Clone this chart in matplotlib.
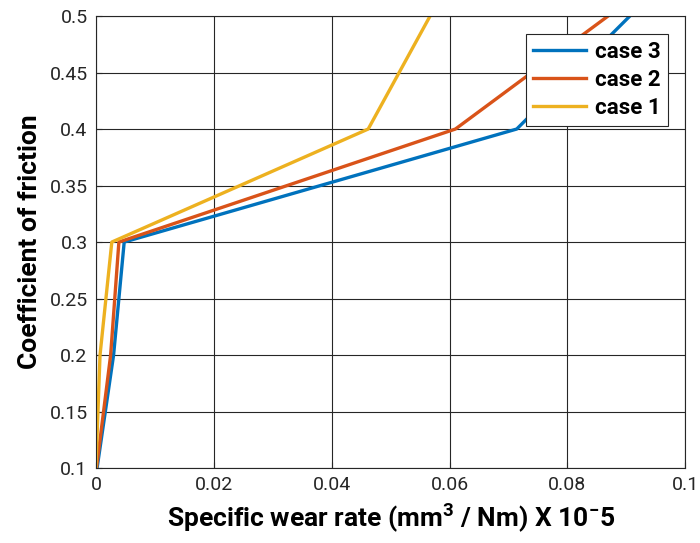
import numpy as np
import matplotlib.pyplot as plt

plt.rcParams['font.family'] = ['Roboto', 'DejaVu Sans']
plt.rcParams['mathtext.fontset'] = 'custom'
plt.rcParams['mathtext.rm'] = 'Roboto'
plt.rcParams['mathtext.bf'] = 'Roboto:bold'

# datos
cof = [0.1, 0.2, 0.3, 0.4, 0.5]
case3 = [0.0002, 0.0030, 0.0048, 0.0714, 0.0906]
case2 = [0.0001, 0.0025, 0.0039, 0.0610, 0.0869]
case1 = [0.0, 0.0007, 0.0027, 0.0462, 0.0567]

series = [("case 3", case3, (0, 0.447, 0.741)),
          ("case 2", case2, (0.85, 0.325, 0.098)),
          ("case 1", case1, (0.929, 0.694, 0.125))]

fig = plt.figure(figsize=(7, 5.43), dpi=100)
ax = fig.add_axes([0.137, 0.138, 0.842, 0.8325])

for name, vals, col in series:
    ax.plot(vals, cof, color=col, linewidth=2.4, label=name)

ax.set_xlim(0, 0.1)
ax.set_ylim(0.1, 0.5)
ax.set_xticks(np.arange(0, 0.101, 0.02))
ax.set_xticklabels(["0", "0.02", "0.04", "0.06", "0.08", "0.1"])
ax.set_yticks(np.arange(0.1, 0.501, 0.05))
ax.set_yticklabels(["0.1", "0.15", "0.2", "0.25", "0.3", "0.35", "0.4", "0.45", "0.5"])
ax.tick_params(direction='in', labelsize=14, length=4, colors='#262626', pad=6)
ax.grid(True, color='#262626', linewidth=0.8)
for s in ax.spines.values():
    s.set_color('#262626')
    s.set_linewidth(0.8)

ax.set_xlabel(r'Specific wear rate (mm$^\mathbf{3}$ / Nm) X 10$^\mathbf{-}$5',
              fontsize=19, fontweight='bold', labelpad=5)
ax.set_ylabel('Coefficient of friction', fontsize=19, fontweight='bold', labelpad=5)

leg = ax.legend(loc='upper right', bbox_to_anchor=(0.97, 0.96),
                prop={'weight': 'bold', 'size': 16}, fancybox=False, framealpha=1,
                handlelength=2.4, borderpad=0.3, labelspacing=0.28, handletextpad=0.4,
                borderaxespad=0)
leg.get_frame().set_edgecolor('#262626')
leg.get_frame().set_linewidth(0.8)

fig.savefig("out.png", dpi=100)
